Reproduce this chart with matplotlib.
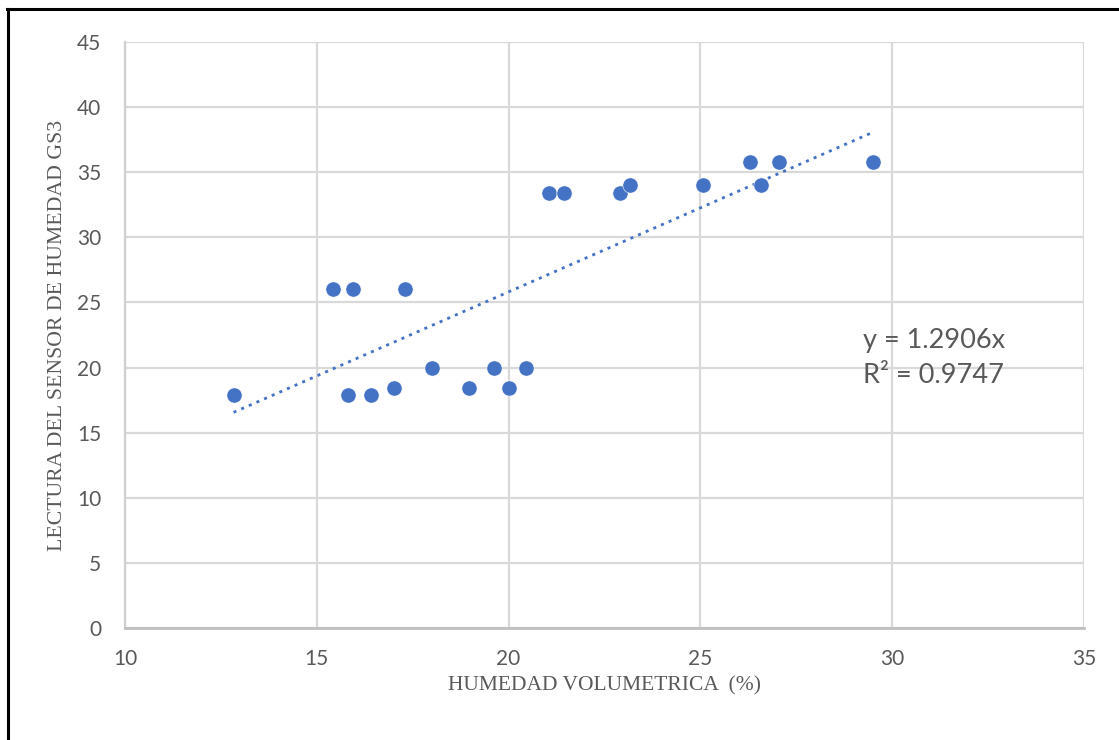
import matplotlib
matplotlib.use("Agg")
import matplotlib.pyplot as plt
from matplotlib.lines import Line2D
import numpy as np

# Volumetric moisture (%) and GS3 sensor readings
humedad_vol = [12.83, 15.42, 15.94, 17.29, 15.81, 16.42, 17.01, 18.01, 18.98,
               19.63, 20.01, 20.46, 21.05, 21.44, 22.91, 23.16, 25.06, 26.30,
               26.57, 27.05, 29.51]
lectura_gs3 = [17.9, 26.0, 26.0, 26.0, 17.9, 17.9, 18.4, 20.0, 18.4,
               20.0, 18.4, 20.0, 33.4, 33.4, 33.4, 34.0, 34.0, 35.75,
               34.0, 35.75, 35.75]

# Linear trend through the origin
pendiente = 1.2906
r2 = 0.9747

x_ticks = [10, 15, 20, 25, 30, 35]
y_ticks = [0, 5, 10, 15, 20, 25, 30, 35, 40, 45]

W, H = 1119, 740
fig = plt.figure(figsize=(W / 100, H / 100), dpi=100)
ax = fig.add_axes([125 / W, 1 - 628 / H, (1084 - 125) / W, (628 - 42) / H])

blue = "#4472C4"
grid_c = "#d9d9d9"
txt_c = "#595959"
tick_font = "Lato"
title_font = "Liberation Serif"

ax.set_xlim(10, 35)
ax.set_ylim(0, 45)
ax.set_xticks(x_ticks)
ax.set_yticks(y_ticks)
ax.grid(True, color=grid_c, linewidth=1.6)
ax.set_axisbelow(True)
for s in ("top", "right"):
    ax.spines[s].set_visible(False)
ax.spines["left"].set_color("#d0d0d0")
ax.spines["left"].set_linewidth(1.6)
ax.spines["bottom"].set_color("#bfbfbf")
ax.spines["bottom"].set_linewidth(2.0)
ax.tick_params(axis="both", length=0, labelsize=15, labelcolor=txt_c)
ax.tick_params(axis="x", pad=15)
ax.tick_params(axis="y", pad=17)
for lab in ax.get_xticklabels() + ax.get_yticklabels():
    lab.set_fontfamily(tick_font)

# scatter points
ax.scatter(humedad_vol, lectura_gs3, s=120, color=blue, edgecolors="white",
           linewidths=0.4, zorder=3)

# dotted trendline y = m*x over the data range
xt = np.array([min(humedad_vol), max(humedad_vol)])
ax.plot(xt, pendiente * xt, linestyle=(0, (1.1, 1.9)), color=blue,
        linewidth=2.0, zorder=2)

# trendline equation
ax.text(29.25, 21.5, f"y = {pendiente}x", fontsize=19.5, color=txt_c,
        fontfamily=tick_font, va="baseline", ha="left")
ax.text(29.25, 18.8, f"R² = {r2}", fontsize=19.5, color=txt_c,
        fontfamily=tick_font, va="baseline", ha="left")

# axis titles
fig.text(604.5 / W, 1 - 690 / H, "HUMEDAD VOLUMETRICA  (%)", fontsize=15.5,
         color=txt_c, fontfamily=title_font, ha="center", va="baseline")
fig.text(58 / W, 1 - 335 / H, "LECTURA DEL SENSOR DE HUMEDAD GS3",
         fontsize=15.7, color=txt_c, fontfamily=title_font, rotation=90,
         ha="center", va="center")

# frame lines on the left and top of the figure
fig.add_artist(Line2D([7.5 / W, 7.5 / W], [0, 1 - 9 / H], color="black",
                      linewidth=2.2, transform=fig.transFigure))
fig.add_artist(Line2D([6.5 / W, 1], [1 - 9 / H, 1 - 9 / H], color="black",
                      linewidth=2.2, transform=fig.transFigure))

fig.savefig("out.png", dpi=100, facecolor="white")
